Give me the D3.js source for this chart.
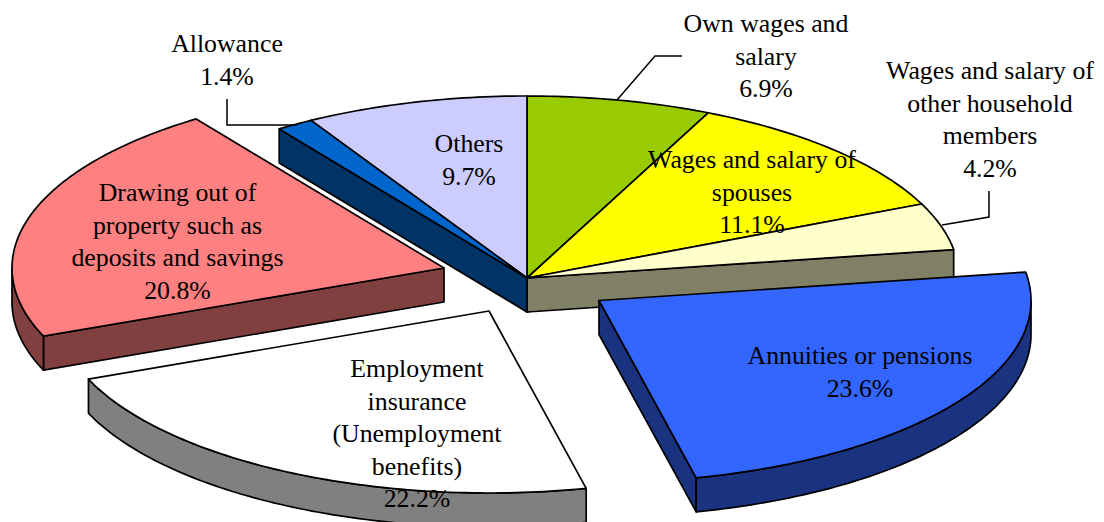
<!DOCTYPE html>
<html><head><meta charset="utf-8">
<script src="https://cdnjs.cloudflare.com/ajax/libs/d3/7.8.5/d3.min.js"></script>
<style>html,body{margin:0;padding:0;background:#fff;overflow:hidden}svg{display:block}</style>
</head><body><svg id="c" width="1104" height="522"></svg>
<script>
const categories = ["Own wages and salary","Wages and salary of spouses","Wages and salary of other household members","Annuities or pensions","Employment insurance (Unemployment benefits)","Drawing out of property such as deposits and savings","Allowance","Others"];
const values = [6.9,11.1,4.2,23.6,22.2,20.8,1.4,9.7];
const topColors = ["#99CC00","#FFFF00","#FFFFCC","#3366FF","#FFFFFF","#FF8080","#0066CC","#CCCCFF"];
const sideColors = ["#667F00","#808000","#808066","#1A3380","#808080","#804040","#003366","#666680"];
const labelLines = [
 ["Own wages and","salary","6.9%"],
 ["Wages and salary of","spouses","11.1%"],
 ["Wages and salary of","other household","members","4.2%"],
 ["Annuities or pensions","23.6%"],
 ["Employment","insurance","(Unemployment","benefits)","22.2%"],
 ["Drawing out of","property such as","deposits and savings","20.8%"],
 ["Allowance","1.4%"],
 ["Others","9.7%"]];
// layout
const centers = [[527,278],[527,278],[527,278],[599,300.5],[489,311],[444,268],[527,278],[527,278]];
const labelPos = [[766,32],[752,168],[990,79],[860,364],[417,377],[177.5,201],[227,52],[469,152]];
const leaders = [[[617,100],[655,56],[682,56]],[[989,191],[989,217],[942,225]],[[227,99],[227,125],[297,125]]];
const drawnDeg = [0,24.8,66,81,167,248,325,330,360];
const drawOrder = [0,1,2,7,6,5,4,3];
const RX=432, RY=182, DEPTH=34, LH=32.6;

const pieGen = d3.pie().sort(null).value(d=>d).startAngle(0).endAngle(2*Math.PI);
const arcs = pieGen(values);
const warp = d3.scaleLinear()
  .domain([0,...arcs.map(a=>a.endAngle)])
  .range(drawnDeg.map(d=>d*Math.PI/180));
const svg = d3.select("#c");
const line = d3.line();
const samples = (a0,a1)=>{const n=Math.max(2,Math.ceil((a1-a0)*60));return d3.range(n+1).map(i=>a0+(a1-a0)*i/n);};
drawOrder.forEach(i=>{
  const arc=arcs[i];
  const [cx,cy]=centers[i];
  const a0=warp(arc.startAngle), a1=warp(arc.endAngle);
  const P=(a,d=0)=>[cx+RX*Math.sin(a), cy-RY*Math.cos(a)+d];
  const g=svg.append("g").attr("stroke","#000").attr("stroke-width",1.7).attr("stroke-linejoin","round");
  const wall=pts=>g.append("path").attr("d",line(pts)+"Z").attr("fill",sideColors[i]);
  if(Math.sin(a0)<0) wall([[cx,cy],P(a0),P(a0,DEPTH),[cx,cy+DEPTH]]);
  if(Math.sin(a1)>0) wall([[cx,cy],P(a1),P(a1,DEPTH),[cx,cy+DEPTH]]);
  const r0=Math.max(a0,Math.PI/2), r1=Math.min(a1,3*Math.PI/2);
  if(r1>r0){
    const s=samples(r0,r1);
    wall([...s.map(a=>P(a)),...s.slice().reverse().map(a=>P(a,DEPTH))]);
  }
  g.append("path").attr("d",line([[cx,cy],...samples(a0,a1).map(a=>P(a))])+"Z").attr("fill",topColors[i]);
});
svg.append("g").selectAll("path").data(leaders).join("path")
  .attr("d",d=>line(d)).attr("fill","none").attr("stroke","#000").attr("stroke-width",1.5);
labelLines.forEach((lines,i)=>{
  const t=svg.append("text").attr("text-anchor","middle").attr("fill","#000")
    .attr("font-family","'Liberation Serif','Times New Roman',serif").attr("font-size",25.8);
  lines.forEach((s,j)=>t.append("tspan").attr("x",labelPos[i][0]).attr("y",labelPos[i][1]+j*LH).text(s));
});
</script></body></html>
